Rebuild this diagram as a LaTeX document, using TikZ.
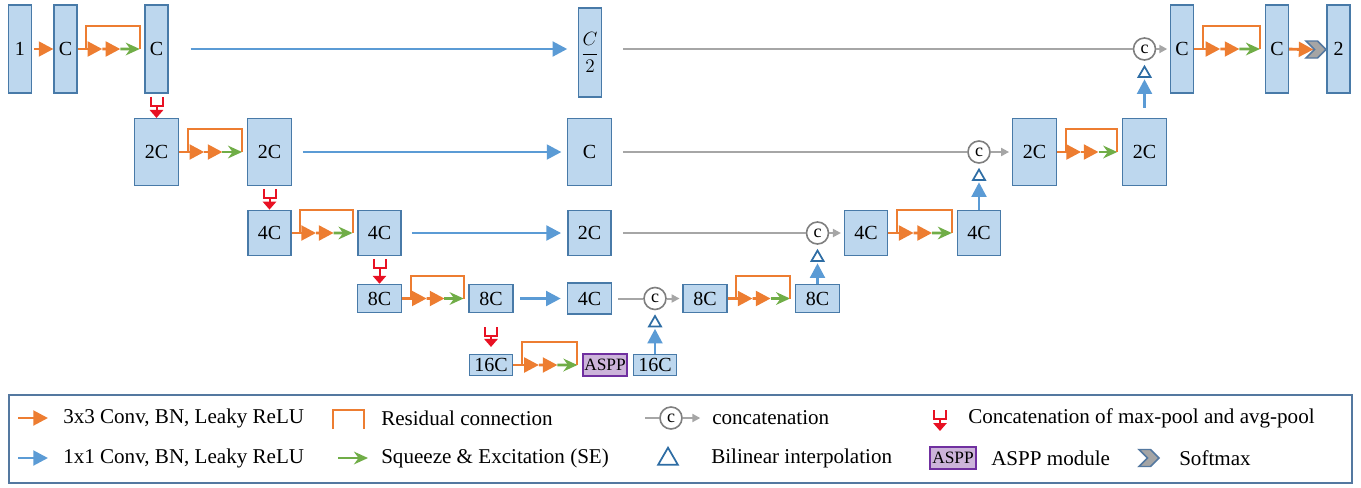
\documentclass[tikz,border=0pt]{standalone}
\usepackage{fontspec}
\setmainfont{Liberation Serif}
\usetikzlibrary{arrows.meta,positioning,calc,shapes.geometric,shapes.symbols}

\definecolor{boxfill}{RGB}{189,215,238}
\definecolor{boxline}{RGB}{72,122,168}
\definecolor{orng}{RGB}{237,125,49}
\definecolor{grn}{RGB}{112,173,71}
\definecolor{blu}{RGB}{91,155,213}
\definecolor{gry}{RGB}{166,166,166}
\definecolor{catline}{RGB}{127,127,127}
\definecolor{poolred}{RGB}{232,17,35}
\definecolor{asppfill}{RGB}{204,180,218}
\definecolor{asppline}{RGB}{112,48,160}
\definecolor{trib}{RGB}{46,109,164}
\definecolor{smxfill}{RGB}{165,165,165}
\definecolor{smxline}{RGB}{84,120,160}
\definecolor{frameline}{RGB}{84,120,160}

\newcommand{\blkfont}{\fontsize{15}{17}\selectfont}
\newcommand{\lgdfont}{\fontsize{15.8}{18}\selectfont}

\tikzset{
  blk/.style={draw=boxline, fill=boxfill, line width=1.1pt, inner sep=0pt, font=\blkfont},
  rowone/.style={blk, minimum width=17pt, minimum height=66pt},
  rowtwo/.style={blk, minimum width=33pt, minimum height=50pt},
  rowthree/.style={blk, minimum width=32.5pt, minimum height=34pt},
  rowfour/.style={blk, minimum width=33pt, minimum height=21pt},
  rowfive/.style={blk, minimum width=32.5pt, minimum height=16pt},
  asppbox/.style={draw=asppline, fill=asppfill, line width=1.1pt, inner sep=0pt, minimum width=33pt, minimum height=16.5pt, font=\fontsize{13}{15}\selectfont},
  catnode/.style={circle, draw=catline, fill=white, line width=1.2pt, minimum size=16.5pt, inner sep=0pt, font=\fontsize{13.5}{13.5}\selectfont},
  upsamp/.style={regular polygon, regular polygon sides=3, draw=trib, fill=white, line width=1.3pt, minimum size=10.5pt, inner sep=0pt},
  smxnode/.style={signal, signal from=west, signal to=east, signal pointer angle=90, draw=smxline, fill=smxfill, line width=1.1pt, minimum width=15pt, minimum height=12.75pt, inner sep=0pt},
  conv/.style={draw=orng, line width=2.2pt, -{Triangle[length=11pt,width=11pt]}},
  resline/.style={draw=orng, line width=1.5pt},
  seblk/.style={draw=grn, line width=2.2pt, -{Stealth[length=10.5pt,width=9.5pt]}},
  skip/.style={draw=blu, line width=2.2pt, -{Triangle[length=11pt,width=11pt]}},
  catin/.style={draw=gry, line width=1.5pt},
  catout/.style={draw=gry, line width=1.5pt, -{Triangle[length=6pt,width=6pt]}},
  poolline/.style={draw=poolred, line width=1.5pt},
  lgtext/.style={anchor=west, inner sep=0.75pt, font=\lgdfont},
}

% residual block between two boxes of one row
\newcommand{\resblk}[2]{%
  \coordinate (rs) at ($(#1.east)!0.13!(#2.west)$);
  \coordinate (ra) at ($(#1.east)!0.37!(#2.west)$);
  \coordinate (rb) at ($(#1.east)!0.64!(#2.west)$);
  \coordinate (re) at ($(#1.east)!0.93!(#2.west)$);
  \draw[conv,-] (#1.east) -- (rs);
  \draw[conv] (rs) -- (ra);
  \draw[conv] (ra) -- (rb);
  \draw[seblk] (rb) -- (re);
  \draw[resline] (rs) -- ++(0,-23) -| (re);
}
% max-pool and avg-pool symbol
\newcommand{\pooldown}[3][]{%
  \draw[poolline] ($(#2)+(-6,3)$) -- ++(0,9) -- ++(12,0) -- ++(0,-9);
  \draw[poolline,-{Triangle[length=6pt,width=10pt]},#1] ($(#2)+(0,12)$) -- (#3);
}

\begin{document}
\begin{tikzpicture}[x=0.75pt,y=0.75pt,yscale=-1,xscale=1]
\useasboundingbox (0,0) rectangle (1361,487);

%Encoder
\node[rowone] (in) at (20,49) {1};
\node[rowone] (e1a) at (65.5,49) {C};
\node[rowone] (e1b) at (156.5,49) {C};
\node[rowtwo] (e2a) at (156.5,152) {2C};
\node[rowtwo] (e2b) at (269.5,152) {2C};
\node[rowthree] (e3a) at (269.5,233) {4C};
\node[rowthree] (e3b) at (379.5,233) {4C};
\node[rowfour] (e4a) at (379.5,298.5) {8C};
\node[rowfour] (e4b) at (491,298.5) {8C};
\node[rowfive] (e5) at (491,365) {16C};
\node[asppbox] (aspp) at (605,365) {ASPP};

%Skip boxes
\node[rowone, minimum height=66.75pt] (m1) at (590,52.5) {$\displaystyle\frac{C}{2}$};
\node[rowtwo] (m2) at (589.5,152) {C};
\node[rowthree] (m3) at (589.5,233) {2C};
\node[rowfour, minimum height=23.25pt] (m4) at (589.5,298.5) {4C};

%Decoder
\node[rowfive] (u5) at (655,365) {16C};
\node[catnode] (cat4) at (655,298.5) {c};
\node[rowfour] (d4a) at (705,298.5) {8C};
\node[rowfour] (d4b) at (817.5,298.5) {8C};
\node[catnode] (cat3) at (817.5,233) {c};
\node[rowthree] (d3a) at (866,233) {4C};
\node[rowthree] (d3b) at (979,233) {4C};
\node[catnode] (cat2) at (979,152) {c};
\node[rowtwo] (d2a) at (1034.5,152) {2C};
\node[rowtwo] (d2b) at (1144.5,152) {2C};
\node[catnode] (cat1) at (1144.5,49) {c};
\node[rowone] (d1a) at (1182,49) {C};
\node[rowone] (d1b) at (1277,49) {C};
\node[smxnode] (smx) at (1316,49.5) {};
\node[rowone] (out) at (1338.5,49) {2};

%Bilinear interpolation
\node[upsamp, below=3pt of cat4] (up4) {};
\node[upsamp, below=3pt of cat3] (up3) {};
\node[upsamp, below=3pt of cat2] (up2) {};
\node[upsamp, below=3pt of cat1] (up1) {};

%Convolutions
\draw[conv, shorten <=1.5pt] (in) -- (e1a);
\resblk{e1a}{e1b}
\resblk{e2a}{e2b}
\resblk{e3a}{e3b}
\resblk{e4a}{e4b}
\resblk{e5}{aspp}
\resblk{d4a}{d4b}
\resblk{d3a}{d3b}
\resblk{d2a}{d2b}
\resblk{d1a}{d1b}
\draw[conv] (d1b) -- (smx.west);

%Pooling
\pooldown{e1b.south}{e2a.north}
\pooldown{e2b.south}{e3a.north}
\pooldown{e3b.south}{e4a.north}
\coordinate (p4) at ($(e4b.south)+(0,11)$);
\pooldown[shorten >=5pt]{p4}{e5.north}

%Skip connections
\draw[skip, shorten <=16.5pt, shorten >=8pt] (e1b.east |- in) -- (m1.west |- in);
\draw[skip, shorten <=8pt, shorten >=4pt] (e2b) -- (m2);
\draw[skip, shorten <=7.5pt, shorten >=4.5pt] (e3b) -- (m3);
\draw[skip, shorten <=5pt, shorten >=4.5pt] (e4b) -- (m4);

%Concatenation
\draw[catin, shorten <=15.75pt] (m1.east |- cat1) -- (cat1);
\draw[catin, shorten <=8.25pt] (m2) -- (cat2);
\draw[catin, shorten <=8.25pt] (m3) -- (cat3);
\draw[catin, shorten <=4.5pt] (m4) -- (cat4);
\draw[catout, shorten >=2pt] (cat1) -- (d1a);
\draw[catout, shorten >=2pt] (cat2) -- (d2a);
\draw[catout, shorten >=2pt] (cat3) -- (d3a);
\draw[catout, shorten >=2pt] (cat4) -- (d4a);

%Upsampling
\draw[skip, shorten <=7.5pt, shorten >=1pt] (d2b) -- (up1.south);
\draw[skip, shorten >=1pt] (d3b) -- (up2.south);
\draw[skip, shorten >=1pt] (d4b) -- (up3.south);
\draw[skip, shorten >=1pt] (u5) -- (up4.south);

%Legend
\draw[draw=frameline, line width=1.1pt] (9,395) rectangle (1352,483);
% Text Node
\node[lgtext] (t1) at (62,418) {3x3 Conv, BN, Leaky ReLU};
\node[lgtext] (t2) at (380,418) {Residual connection};
\node[lgtext] (t3) at (711,418) {concatenation};
\node[lgtext] (t4) at (967,418) {Concatenation of max-pool and avg-pool};
\node[lgtext] (t5) at (62,458) {1x1 Conv, BN, Leaky ReLU};
\node[lgtext] (t6) at (380,458) {Squeeze \& Excitation (SE)};
\node[lgtext] (t7) at (710,458) {Bilinear interpolation};
\node[lgtext] (t8) at (990,458) {ASPP module};
\node[lgtext] (t9) at (1178,458) {Softmax};

\coordinate (l1) at (18,418);
\draw[conv, shorten >=10.5pt] (l1) -- (t1.west);
\draw[resline] (333,429) -- (333,410) -- (364,410) -- (364,429);
\node[catnode] (lcat) at (671,418) {c};
\coordinate (l3) at (645,418);
\draw[catin] (l3) -- (lcat);
\draw[catout, shorten >=8pt] (lcat) -- (t3.west);
\coordinate (l4) at (940,407);
\coordinate (l4e) at (940,431);
\pooldown{l4}{l4e}
\coordinate (l5) at (18,458);
\draw[skip, shorten >=10.5pt] (l5) -- (t5.west);
\coordinate (l6) at (338,458);
\draw[seblk, shorten >=9pt] (l6) -- (t6.west);
\node[upsamp, minimum size=17pt] (ltri) at (668,459) {};
\node[asppbox, minimum width=34.5pt] (laspp) at (953,458) {ASPP};
\node[smxnode] (lsmx) at (1149,458) {};

\end{tikzpicture}
\end{document}
